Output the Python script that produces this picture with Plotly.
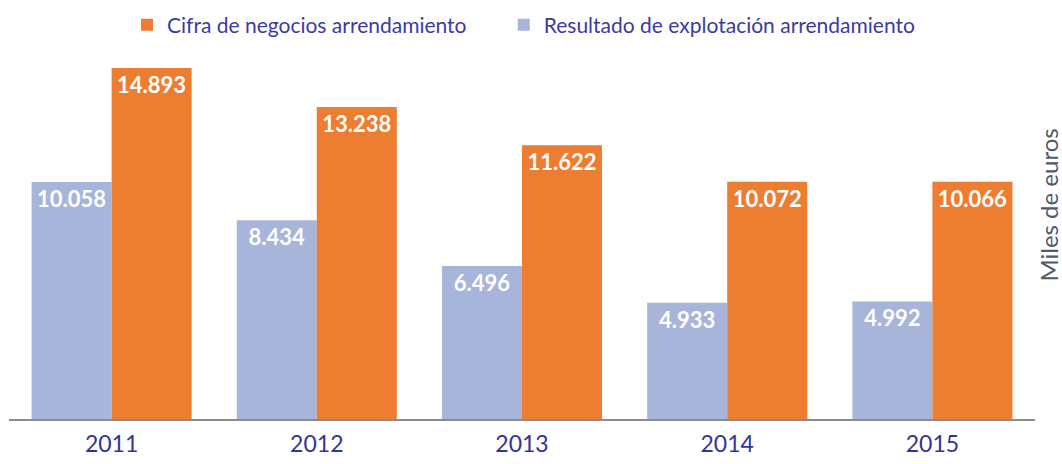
import plotly.graph_objects as go

years = ["2011", "2012", "2013", "2014", "2015"]
resultado = [10058, 8434, 6496, 4933, 4992]
cifra = [14893, 13238, 11622, 10072, 10066]
resultado_labels = ["10.058", "8.434", "6.496", "4.933", "4.992"]
cifra_labels = ["14.893", "13.238", "11.622", "10.072", "10.066"]

FONT = "Lato, 'Open Sans', sans-serif"
PAD = "\u00a0" * 6

fig = go.Figure()
fig.add_trace(go.Bar(
    x=years, y=resultado, name="Resultado de explotación arrendamiento",
    marker=dict(color="#A7B5DA", line=dict(width=0)),
    text=resultado_labels, textposition="inside", insidetextanchor="end",
    textfont=dict(color="white", size=22, family=FONT, weight="bold"),
    textangle=0, legendrank=2,
))
fig.add_trace(go.Bar(
    x=years, y=cifra, name="Cifra de negocios arrendamiento" + PAD,
    marker=dict(color="#ED7D31", line=dict(width=0)),
    text=cifra_labels, textposition="inside", insidetextanchor="end",
    textfont=dict(color="white", size=22, family=FONT, weight="bold"),
    textangle=0, legendrank=1,
))

fig.update_layout(
    width=1062, height=464,
    margin=dict(l=9, r=27, t=42, b=45, autoexpand=False),
    plot_bgcolor="white", paper_bgcolor="white",
    barmode="group", bargap=0.22, bargroupgap=0,
    font=dict(family=FONT),
    uniformtext=dict(mode="show", minsize=22),
    showlegend=True,
    legend=dict(orientation="h", x=0.115, xanchor="left", y=0.99, yanchor="top",
                yref="container", font=dict(size=21, color="#3B3B9F"),
                traceorder="normal"),
)
fig.update_xaxes(showline=True, linecolor="#8C8C8C", linewidth=2, ticks="",
                 ticklabelstandoff=3,
                 tickfont=dict(size=23, color="#333399", family=FONT), showgrid=False)
fig.update_yaxes(range=[0, 16000], showticklabels=False, showgrid=False, zeroline=False,
                 showline=False)
fig.add_annotation(text="Miles de euros", textangle=-90, xref="paper", yref="paper",
                   x=1, xshift=14, xanchor="center", y=0.566, yanchor="middle", showarrow=False,
                   font=dict(size=24, color="#4E5B6E", family=FONT))

fig.write_html("out.html", config={"displayModeBar": False},
               post_script="document.body.style.margin='0';document.body.style.overflow='hidden';")
